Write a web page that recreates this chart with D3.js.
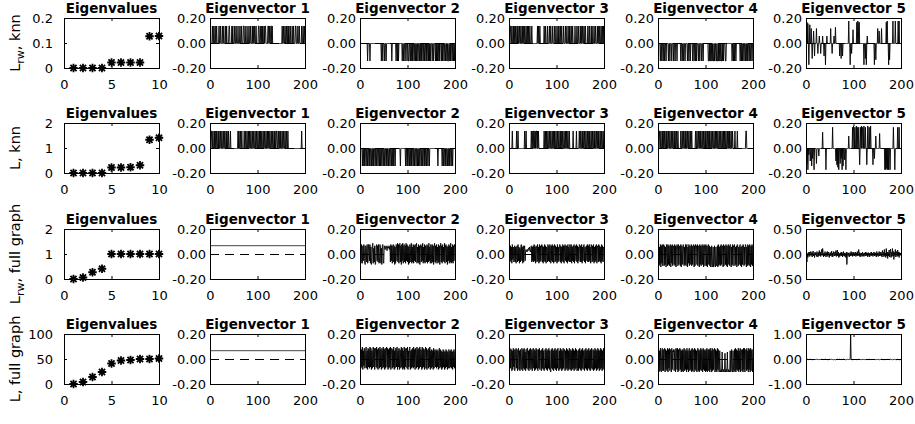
<!DOCTYPE html>
<html>
<head>
<meta charset="utf-8">
<style>
  body { margin: 0; background: #fff; }
  svg { display: block; font-family: 'DejaVu Sans', Verdana, sans-serif; }
  .title { font-weight: bold; font-size: 13.5px; }
  .rowlab { font-size: 14.5px; }
</style>
</head>
<body>
<svg width="915" height="424"></svg>
<script src="https://d3js.org/d3.v7.min.js"></script>
<script>
// ---- data ----
const colTitles = ["Eigenvalues", "Eigenvector 1", "Eigenvector 2", "Eigenvector 3", "Eigenvector 4", "Eigenvector 5"];

const evalIdx = [1, 2, 3, 4, 5, 6, 7, 8, 9, 10];
const evalRwKnn = [0, 0, 0, 0, 0.022, 0.022, 0.022, 0.022, 0.127, 0.128];
const evalLKnn = [0, 0, 0, 0, 0.22, 0.22, 0.23, 0.31, 1.33, 1.41];
const evalRwFull = [0, 0.06, 0.27, 0.41, 1, 1, 1, 1, 1, 1];
const evalLFull = [0, 4, 14, 24, 41, 47, 48, 50, 50, 51];

const evalTicksRwKnn = [0, 0.1, 0.2];
const evalTicksLKnn = [0, 1, 2];
const evalTicksRwFull = [0, 1, 2];
const evalTicksLFull = [0, 50, 100];
const evalXTicks = [0, 5, 10];
const vecXTicks = [0, 100, 200];
const vecYTicks = [-0.2, 0, 0.2];
const vecYTicksRwFull5 = [-0.5, 0, 0.5];
const vecYTicksLFull5 = [-1, 0, 1];

// indicator vectors (knn graph): 1 = point in the cluster, 200 points in groups of 10
const knnAmp = 0.14;
const fullAmp = 0.0707;
const mRwKnn1 = "0000100100 1001000010 0100010010 0010100001 1000010100 0100100010 0010010001 1001000100 0100100010 1001001000 0110010010 1001011000 0110100110 1000000000 0000000000 0100100100 1001010010 0010010001 1000100100 0010010010";
const mRwKnn2 = "0000000000 0000010000 1000000000 0000000000 0000100100 0100100000 0000001000 0000010010 1000000010 0100100010 0110010010 1001001010 0100100101 0010010010 1001010100 0100100010 1010010100 0101001001 0010110010 1001001010";
const mRwKnn3 = "0110010010 1001001010 0100100101 0010010010 1001000100 0000000001 0100100000 0001001000 1000100100 0100010010 0010100100 1000100010 0100010100 1001000010 0010010001 0100100100 1000010010 0010100010 0100010100 1001001010";
const mRwKnn4 = "0000100100 1001001000 0100100010 0010010001 0000000100 1001001000 0100100100 0010010010 1000100100 0100100000 0000011010 1101011010 0110110101 1011010100 0110000000 0000010010 1001000000 0010010100 1001001010 0100100100";
const mLKnn1 = "0110010010 1001001010 0100100100 1001010010 0010000000 0000000010 1001001000 0100100100 1010010010 0100100100 1001010010 0100100100 1010010010 0100101001 1001001010 0100100100 1001000000 0000000000 0000000000 0010000000";
const mLKnn2 = "0000100101 0010010010 1001001010 0100100100 1010010010 0100101001 0010010010 1001000000 0000100000 0000010010 1001001010 0100100100 1010010010 0100101001 0010010000 0000000000 0001000000 0010010010 1001001010 0100100000";
const mLKnn3 = "0000001000 0000010010 0000000000 0010010000 0000001001 0110101101 0100000000 0001001010 0100100100 1001010010 0100100101 0010010010 1001001000 0000100000 0100000100 1001010010 0100100101 0010010010 1001001010 0100100101";
const mLKnn4 = "0110010010 1001001010 0100100100 1001010010 0100000100 1001001010 0100100100 1000000010 0100100101 0010010010 1001001010 0100100100 1010010010 0100100101 0010010010 1001001000 0100001000 0000000000 0000110000 0000000000";
const mFull1 = "1111111111 1111111111 1111111111 1111111111 1111111111 1111111111 1111111111 1111111111 1111111111 1111111111 1111111111 1111111111 1111111111 1111111111 1111111111 1111111111 1111111111 1111111111 1111111111 1111111111";

// other eigenvectors, values in hundredths
const hRwKnn5 = [
  0,17,0,16,0,-17,0,15,0,0, 12,0,-12,0,0,10,0,-10,0,0, 0,12,0,0,-8,0,0,6,0,0, -8,0,0,0,6,0,0,-10,0,0,
  -17,0,0,6,0,0,0,0,0,0, 0,12,0,0,-8,0,0,0,6,0, 0,13,0,0,0,0,0,0,0,0, -10,0,0,-12,0,0,-10,0,0,0,
  0,0,0,0,0,0,0,0,0,18, 0,0,-17,0,0,-8,0,0,11,0, 0,0,0,0,0,0,17,0,18,16, 0,17,0,0,0,0,0,0,0,0,
  0,-17,0,0,-12,0,-17,0,6,0, 0,0,0,0,0,0,0,0,0,0, 0,0,0,-17,0,0,-13,0,0,0, 12,0,0,10,0,0,0,0,12,0,
  0,0,0,0,0,0,0,0,17,0, 18,0,0,-17,0,-13,0,0,0,0, 0,0,18,0,0,0,0,18,0,0, 0,0,0,18,0,18,0,0,0,0];
const hLKnn5 = [
  0,-12,0,-17,0,-5,0,0,-10,0, 0,-14,0,-8,0,0,-17,0,0,0, 0,-12,0,0,0,0,-6,0,0,0, 0,0,0,0,13,0,0,0,0,0,
  0,-17,0,0,0,0,0,0,0,0, 0,0,0,0,0,17,0,0,0,0, 0,0,-10,0,-13,0,-15,0,-17,0, 0,-12,0,-8,0,-17,0,-14,0,0,
  -9,0,0,-17,0,0,0,0,0,10, 0,0,0,0,0,0,0,17,0,18, 16,0,17,0,0,18,0,17,0,0, 17,0,-13,0,17,0,18,0,17,16,
  0,18,0,0,17,0,0,-13,0,18, 0,0,17,0,0,18,0,0,0,0, -13,0,0,-8,0,0,10,0,0,0, 0,0,0,0,12,0,0,0,0,0,
  0,0,0,0,0,-17,0,-17,0,-16, 0,-17,0,-17,0,0,-17,0,0,0, 0,0,0,17,0,0,-17,0,0,0, 0,0,17,0,0,17,0,0,0,0];
const hRwFull2 = [
  6,-7,8,-6,-7,7,-5,8,6,-7, -8,7,5,-6,8,-7,-6,8,7,-5, 8,-7,6,-8,-6,7,9,-7,5,-6, 7,-8,-7,6,8,-5,7,-6,8,-7,
  -6,8,6,-7,5,-8,7,8,-6,-7, 7,6,4,6,7,5,3,6,7,5, 6,4,7,-6,8,-5,7,-7,6,8, -6,7,-8,6,-7,8,7,-5,9,-6,
  8,-7,6,9,-6,7,-8,8,-5,9, -7,6,8,-6,7,-7,9,-5,8,-6, 7,-8,6,-7,8,5,-6,9,-7,6, -6,8,-7,7,-5,8,-6,7,9,-7,
  6,-6,8,-7,7,-8,6,8,-6,7, -5,9,-7,6,-6,8,-7,7,5,-6, 8,-7,7,-6,9,-5,6,-7,8,6, -7,8,-6,7,-8,6,9,-6,7,-7,
  8,-5,6,-7,8,-6,7,-8,6,9, -6,7,-7,8,-5,6,-6,9,-7,7, 8,-6,7,-8,6,-5,8,-7,7,-6, 9,-7,6,-6,8,-7,7,-5,8,6];
const hRwFull3 = [
  5,-6,7,-5,6,-7,8,-4,6,-6, -5,7,-6,6,-7,5,7,-6,8,-5, 6,-7,5,-6,7,8,-5,6,-7,7, -6,5,7,-5,3,4,3,2,4,3,
  5,4,6,3,2,5,7,-6,6,-5, 7,-6,8,-5,6,-7,7,5,-6,8, -5,6,-7,8,-6,7,-5,6,8,-6, 7,-7,6,-5,8,-6,7,-7,6,5,
  -6,8,-5,7,-6,8,6,-7,7,-5, 8,-6,7,-7,5,8,-6,7,-5,6, -7,8,-6,6,-5,7,8,-6,7,-7, 6,-5,8,-6,7,-7,6,8,-5,7,
  -6,7,-7,8,-5,6,-6,8,7,-6, 8,-7,6,-5,7,-6,8,-7,6,7, -5,8,-6,7,-7,6,-5,8,7,-6, 7,-6,8,-7,6,-5,7,8,-6,6,
  -7,6,7,-5,8,-6,7,-6,8,-5, 6,-7,8,6,-6,7,-5,8,-7,6, -6,7,-5,8,-7,6,7,-6,8,-5, 7,-6,6,-7,8,-5,7,-6,6,5];
const hRwFull4 = [
  7,-9,6,-8,8,-10,7,-7,8,-9, 6,8,-9,7,-8,6,-10,8,7,-9, 8,-8,7,-9,6,8,-10,7,-7,8, -9,7,6,-8,8,-9,7,-10,6,8,
  7,-9,8,-8,6,7,-9,8,-10,7, 6,-8,8,7,-9,6,-8,8,-9,7, 8,-10,6,-7,8,-9,7,6,-8,8, -9,7,-8,6,8,-10,7,-9,8,6,
  7,-8,8,-9,6,7,-10,8,-8,7, -9,6,8,-8,7,-10,8,6,-9,7, 8,-9,7,-10,6,8,-8,7,-9,6, -10,-8,7,-10,-9,6,-10,-8,7,-9,
  -10,6,-9,-8,7,-10,8,-9,6,-8, 7,-9,8,-8,6,7,-10,8,-9,7, 6,-8,8,-9,7,-10,6,8,-8,7, -9,8,7,-10,6,-8,8,-9,7,6,
  8,-9,6,-8,7,-10,8,7,-9,6, -8,7,8,-9,6,-10,7,-8,8,7, -9,6,-8,8,7,-10,6,-9,8,-8, 7,-9,8,6,-10,7,-8,8,-9,7];
const hRwFull5 = [
  -3,-15,2,-6,4,-2,5,-4,3,6, -2,4,-5,3,7,-3,2,-6,5,-1, 3,-4,6,2,-5,4,-3,8,-2,5, -4,3,10,-2,12,4,-5,3,-3,6,
  2,-5,4,-2,6,-4,3,5,-6,2, -3,4,-2,7,-5,3,-4,6,2,-3, 5,-2,8,-4,3,9,-3,5,-6,2, -4,3,-2,5,-3,4,-5,2,6,-3,
  3,-4,2,-6,5,-20,-3,4,-2,3, -5,2,4,-3,6,-2,3,-4,5,-2, 4,-3,2,5,-4,3,-2,6,-3,2, 10,-3,4,-5,2,-2,3,-4,5,-3,
  2,-4,3,-2,5,-3,4,-2,3,-5, 4,-2,3,-5,2,4,-3,5,-2,3, -4,2,5,-3,4,-2,3,-5,6,-2, 3,-4,2,6,-3,5,-2,4,-4,3,
  8,-5,4,-2,10,-4,3,-6,12,-3, 5,-8,4,-3,9,-5,3,11,-6,4, -4,12,-3,6,-10,4,-2,10,-5,3, 6,-4,9,-3,5,-6,4,-2,3,-1];
const hLFull2 = [
  9,-7,8,-6,10,-8,7,-5,9,-7, -6,8,10,-7,7,-8,9,-6,8,-7, 10,-6,9,-8,7,-7,8,10,-6,9, -8,7,9,-6,10,-7,8,-8,9,7,
  -7,10,-6,8,-8,9,7,-7,10,-6, 8,-8,9,-7,7,10,-6,9,-8,8, -7,9,-6,10,-8,7,9,-7,8,-6, 10,-8,7,-7,9,8,-6,10,-8,7,
  -6,9,-8,8,7,-7,10,-6,9,-8, 7,-7,10,-8,9,-6,8,9,-7,10, -8,7,-6,9,10,-8,7,-7,8,-6, 9,-7,10,-6,8,-8,9,7,-7,10,
  -6,8,-8,9,-7,10,-6,8,7,-8, 10,-7,9,-6,8,-8,7,10,-7,9, -8,6,8,-7,9,-6,10,-8,7,-7, 8,-6,7,-8,9,-7,6,8,-6,7,
  -7,8,-6,7,-8,6,9,-7,8,-6, 7,-8,6,-7,8,-6,7,-8,6,-7, 8,-6,7,-8,6,-7,8,6,-7,7, -6,8,-7,6,-8,7,-6,8,-7,6];
const hLFull3 = [
  -8,9,-7,8,8,-9,7,-8,9,-6, 8,-9,-7,8,9,-7,8,-9,6,9, -8,7,-9,8,-7,-8,9,7,-9,8, -7,9,-8,6,-9,8,-7,9,9,-8,
  7,-9,8,-7,9,-8,-6,8,-9,7, 9,-7,8,-9,7,-8,9,-7,8,-8, -9,8,-7,9,-8,7,7,-9,8,-7, 9,-8,7,-9,-8,8,-7,9,-8,7,
  -9,8,-7,9,-8,7,-9,-10,8,-7, 9,-8,7,-9,8,-7,9,-8,7,-9, 8,-7,9,-8,-9,7,-8,9,-7,8, -9,7,-8,9,-7,8,8,-9,7,-8,
  9,-7,8,-9,7,-8,9,-7,-8,8, -9,7,-8,9,-7,8,-9,7,-8,9, -7,8,-9,-8,7,-9,8,-7,9,-8, 7,-9,8,-7,9,-8,7,7,-9,8,
  -7,9,-8,7,-9,8,-7,9,-8,7, -9,8,-7,9,-8,-7,8,-9,7,-8, 9,-7,8,-9,7,-8,9,-7,8,-9, 7,-8,9,-7,8,-9,7,-8,9,-7];
const hLFull4 = [
  8,-10,7,-9,9,-8,-10,7,9,-9, 8,-9,7,9,-10,8,-8,7,-9,9, -10,8,-7,9,-9,8,7,-10,9,-8, 7,6,8,-9,7,8,-10,9,7,-8,
  9,-10,8,-9,7,9,-8,8,-10,7, -9,8,-10,7,9,-9,8,-8,7,-10, 9,-8,7,-10,8,9,-9,7,-8,8, -10,9,-9,8,7,-10,9,-8,8,-9,
  7,-10,8,9,-9,8,-10,7,-8,9, -9,8,7,-10,9,-8,8,-9,7,-10, 8,-9,9,-10,7,8,-9,8,-10,9, -8,7,-10,9,-9,8,-8,7,9,-10,
  8,-9,7,-10,9,-8,8,-9,-10,7, -9,-10,-8,-10,6,-9,-10,-8,-10,-9, 5,-10,-9,-8,-10,6,-9,-10,-8,-10, -9,7,-10,-8,8,-9,-10,7,-8,-10,
  8,-9,9,-10,8,-8,7,-9,9,-10, 7,-8,9,-10,8,7,-9,8,-10,9, -8,9,-10,7,8,-9,9,-8,7,-10, 9,-8,8,-10,9,-9,7,8,-10,8];
const hLFull5 = [
  0,0,1,0,0,-1,0,0,0,1, 0,0,0,-1,0,0,1,0,0,0, 0,1,0,0,0,0,-1,0,0,0, 0,0,1,0,0,0,0,-1,0,0,
  1,0,0,0,-1,0,0,0,1,0, 0,0,0,1,0,0,0,-1,0,0, 0,-1,0,0,0,1,0,0,0,0, 1,0,0,0,0,-1,0,0,1,0,
  0,0,-1,0,0,0,1,0,0,0, 0,0,0,100,0,0,0,-1,0,0, 1,0,0,0,0,0,-1,0,0,1, 0,0,0,-1,0,0,0,1,0,0,
  0,1,0,0,0,-1,0,0,0,0, -1,0,0,1,0,0,0,0,-1,0, 0,0,1,0,0,0,-1,0,0,0, 0,1,0,0,-1,0,0,0,1,0,
  0,0,-1,0,0,1,0,0,0,0, 1,0,0,0,-1,0,0,1,0,0, 0,-1,0,0,0,0,1,0,0,-1, 0,0,1,0,0,0,-1,0,0,0];

const rowLabels = [["L", "rw", ", knn"], ["L", "", ", knn"], ["L", "rw", ", full graph"], ["L", "", ", full graph"]];

// ---- table for drawing ----
const ind = (mask, amp) => mask.replace(/\s/g, "").split("").map(c => c === "1" ? amp : 0);
const hund = arr => arr.map(v => v / 100);

const rows = [
  { label: rowLabels[0], evals: evalRwKnn, evalTicks: evalTicksRwKnn,
    vecs: [ind(mRwKnn1, knnAmp), ind(mRwKnn2, -knnAmp), ind(mRwKnn3, knnAmp), ind(mRwKnn4, -knnAmp), hund(hRwKnn5)],
    lastTicks: vecYTicks },
  { label: rowLabels[1], evals: evalLKnn, evalTicks: evalTicksLKnn,
    vecs: [ind(mLKnn1, knnAmp), ind(mLKnn2, -knnAmp), ind(mLKnn3, knnAmp), ind(mLKnn4, knnAmp), hund(hLKnn5)],
    lastTicks: vecYTicks },
  { label: rowLabels[2], evals: evalRwFull, evalTicks: evalTicksRwFull,
    vecs: [ind(mFull1, fullAmp), hund(hRwFull2), hund(hRwFull3), hund(hRwFull4), hund(hRwFull5)],
    lastTicks: vecYTicksRwFull5 },
  { label: rowLabels[3], evals: evalLFull, evalTicks: evalTicksLFull,
    vecs: [ind(mFull1, fullAmp), hund(hLFull2), hund(hLFull3), hund(hLFull4), hund(hLFull5)],
    lastTicks: vecYTicksLFull5 }
];

// ---- layout ----
const colLeft = [64, 210, 360, 509, 658, 806];
const rowTop = [18, 123, 229, 334];
const boxW = 95, boxH = 50;

let svg = d3.select("svg");

// 8-armed asterisk like the matlab '*' marker
const star = {
  draw(ctx, size) {
    const r = Math.sqrt(size) / 2, d = r * 0.72;
    ctx.moveTo(-r, 0); ctx.lineTo(r, 0);
    ctx.moveTo(0, -r); ctx.lineTo(0, r);
    ctx.moveTo(-d, -d); ctx.lineTo(d, d);
    ctx.moveTo(-d, d); ctx.lineTo(d, -d);
  }
};

function styleAxis(sel) {
  sel.attr("font-family", "'DejaVu Sans', Verdana, sans-serif").attr("font-size", 13);
  sel.select(".domain").remove();
}

function panel(left, top, title, xDomain, xTicks, yDomain, yTicks, fmt, pad) {
  const x = d3.scaleLinear().domain(xDomain).range([left, left + boxW]);
  const y = d3.scaleLinear().domain(yDomain).range([top + boxH, top]);
  const g = svg.append("g");

  g.append("text").attr("class", "title")
    .attr("x", left + boxW / 2).attr("y", top - 5)
    .attr("text-anchor", "middle").text(title);

  g.append("g").attr("transform", `translate(${left},0)`)
    .call(d3.axisLeft(y).tickValues(yTicks).tickSize(-3).tickPadding(pad).tickFormat(fmt))
    .call(styleAxis);
  g.append("g").attr("transform", `translate(${left + boxW},0)`)
    .call(d3.axisRight(y).tickValues(yTicks).tickSize(-3).tickFormat(""))
    .call(styleAxis);
  g.append("g").attr("transform", `translate(0,${top + boxH})`)
    .call(d3.axisBottom(x).tickValues(xTicks).tickSize(-3).tickPadding(12))
    .call(styleAxis);
  g.append("g").attr("transform", `translate(0,${top})`)
    .call(d3.axisTop(x).tickValues(xTicks).tickSize(-3).tickFormat(""))
    .call(styleAxis);

  g.append("rect")
    .attr("x", left + 0.5).attr("y", top + 0.5)
    .attr("width", boxW).attr("height", boxH)
    .attr("fill", "none").attr("stroke", "#000").attr("stroke-width", 1);
  return { g, x, y };
}

rows.forEach((row, r) => {
  const top = rowTop[r];

  // row label, rotated
  const lab = svg.append("text").attr("class", "rowlab")
    .attr("text-anchor", "middle")
    .attr("transform", `translate(20,${top + boxH / 2}) rotate(-90)`);
  lab.append("tspan").text(row.label[0]);
  if (row.label[1]) {
    lab.append("tspan").attr("dy", 4).attr("font-size", 11).text(row.label[1]);
    lab.append("tspan").attr("dy", -4).text(row.label[2]);
  } else {
    lab.append("tspan").text(row.label[2]);
  }

  // eigenvalues
  const ev = panel(colLeft[0], top, colTitles[0], [0, 10], evalXTicks,
    [0, d3.max(row.evalTicks)], row.evalTicks, d => String(d), 11);
  ev.g.append("g").selectAll("path")
    .data(row.evals)
    .join("path")
    .attr("transform", (d, i) => `translate(${ev.x(evalIdx[i])},${ev.y(d)})`)
    .attr("d", d3.symbol().type(star).size(72))
    .attr("fill", "none").attr("stroke", "#000").attr("stroke-width", 1.8);

  // eigenvectors
  row.vecs.forEach((vals, k) => {
    const ticks = k === 4 ? row.lastTicks : vecYTicks;
    const p = panel(colLeft[k + 1], top, colTitles[k + 1], [0, 200], vecXTicks,
      [ticks[0], ticks[2]], ticks, d => d.toFixed(2), 4);
    p.g.append("line")
      .attr("x1", p.x(0)).attr("x2", p.x(200))
      .attr("y1", p.y(0) + 0.5).attr("y2", p.y(0) + 0.5)
      .attr("stroke", "#000").attr("stroke-width", 1)
      .attr("stroke-dasharray", "9,6");
    const line = d3.line().x((d, i) => p.x(i + 1)).y(d => p.y(d) + 0.5);
    p.g.append("path")
      .datum(vals)
      .attr("d", line)
      .attr("fill", "none").attr("stroke", "#000").attr("stroke-width", 0.9);
  });
});
</script>
</body>
</html>
